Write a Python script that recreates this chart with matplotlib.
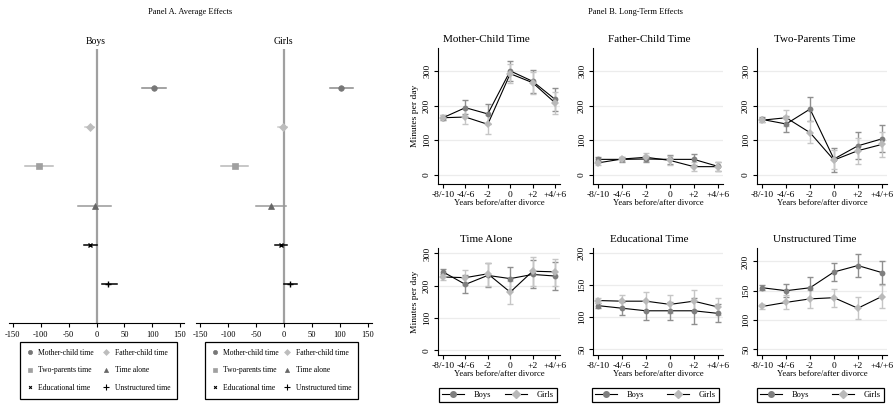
import numpy as np
import matplotlib.pyplot as plt
from matplotlib.lines import Line2D

plt.rcParams['font.family'] = ['Liberation Serif', 'DejaVu Serif']
plt.rcParams['axes.unicode_minus'] = False

W, H = 893, 408

# ---- Panel A data (average effects) ----
activities = ['Mother-child time', 'Father-child time', 'Two-parents time',
              'Time alone', 'Educational time', 'Unstructured time']
boys_est = [103, -12, -103, -3, -12, 21]
boys_lo = [82, -21, -128, -33, -22, 9]
boys_hi = [124, -4, -78, 26, 1, 36]
girls_est = [103, -2, -88, -24, -6, 11]
girls_lo = [82, -11, -113, -50, -16, 0]
girls_hi = [123, 5, -65, 3, 5, 23]

# ---- Panel B data (long-term effects) ----
periods = ['-8/-10', '-4/-6', '-2', '0', '+2', '+4/+6']

mother_boys = [165, 194, 176, 300, 270, 218]
mother_boys_lo = [158, 175, 146, 272, 237, 185]
mother_boys_hi = [172, 215, 206, 328, 302, 252]
mother_girls = [165, 167, 146, 292, 266, 208]
mother_girls_lo = [158, 146, 118, 266, 232, 177]
mother_girls_hi = [172, 190, 173, 320, 298, 240]

father_boys = [45, 45, 46, 45, 45, 25]
father_boys_lo = [39, 38, 36, 33, 30, 12]
father_boys_hi = [51, 52, 56, 57, 60, 38]
father_girls = [35, 46, 51, 42, 24, 24]
father_girls_lo = [29, 39, 40, 30, 12, 12]
father_girls_hi = [41, 53, 62, 54, 36, 36]

two_boys = [160, 147, 190, 46, 84, 104]
two_boys_lo = [154, 123, 156, 10, 46, 66]
two_boys_hi = [166, 171, 224, 78, 123, 143]
two_girls = [158, 165, 122, 43, 70, 88]
two_girls_lo = [152, 142, 92, 16, 33, 52]
two_girls_hi = [164, 188, 155, 72, 108, 125]

alone_boys = [243, 204, 232, 222, 235, 230]
alone_boys_lo = [235, 176, 195, 186, 192, 187]
alone_boys_hi = [251, 232, 270, 258, 280, 275]
alone_girls = [227, 225, 237, 180, 245, 243]
alone_girls_lo = [219, 202, 198, 144, 200, 200]
alone_girls_hi = [235, 248, 272, 216, 288, 284]

edu_boys = [118, 114, 110, 110, 110, 106]
edu_boys_lo = [114, 104, 95, 96, 90, 92]
edu_boys_hi = [122, 124, 125, 124, 130, 120]
edu_girls = [126, 125, 125, 120, 125, 116]
edu_girls_lo = [122, 115, 110, 106, 110, 104]
edu_girls_hi = [130, 135, 140, 134, 142, 130]

unstr_boys = [155, 150, 155, 182, 193, 181]
unstr_boys_lo = [151, 139, 138, 166, 174, 161]
unstr_boys_hi = [159, 161, 173, 198, 212, 200]
unstr_girls = [123, 130, 136, 138, 120, 140]
unstr_girls_lo = [119, 118, 120, 122, 101, 121]
unstr_girls_hi = [127, 142, 152, 153, 140, 160]

fig = plt.figure(figsize=(W / 100, H / 100), dpi=100)


def px_axes(left, top, right, bottom):
    return fig.add_axes([left / W, 1 - bottom / H, (right - left) / W, (bottom - top) / H])


def fig_bbox(left, top, right, bottom):
    return (left / W, 1 - bottom / H, (right - left) / W, (bottom - top) / H)


# ---------------- Panel A ----------------
a_markers = ['o', 'D', 's', '^', 'x', '+']
a_mcolors = ['#777777', '#bdbdbd', '#a0a0a0', '#666666', 'black', 'black']
a_lcolors = ['#8a8a8a', '#cccccc', '#b8b8b8', '#999999', 'black', 'black']
a_msizes = [4, 4, 4, 4, 3, 5]

fig.text(190 / W, 1 - 12 / H, 'Panel A. Average Effects', ha='center', va='center', fontsize=6)

for rect, title, est, lo, hi, leg in [((9, 49, 184, 323), 'Boys', boys_est, boys_lo, boys_hi, (20, 342, 177, 405)),
                                       ((196.5, 49, 371.5, 323), 'Girls', girls_est, girls_lo, girls_hi, (205, 342, 358, 405))]:
    ax = px_axes(*rect)
    ax.set_xlim(-157, 157)
    ax.set_ylim(0, 7)
    ax.axvline(0, color='#a0a0a0', lw=1.6, zorder=1)
    rows = np.arange(len(activities), 0, -1)
    handles = []
    for i in range(len(activities)):
        ax.plot([lo[i], hi[i]], [rows[i], rows[i]], color=a_lcolors[i], lw=1.1, zorder=2)
        ax.plot(est[i], rows[i], marker=a_markers[i], color=a_mcolors[i], ms=a_msizes[i],
                mew=1 if a_markers[i] in 'x+' else 0.5, ls='none', zorder=3)
        handles.append(Line2D([], [], marker=a_markers[i], color=a_mcolors[i], ms=a_msizes[i] - 1,
                              ls='none', mew=0.8 if a_markers[i] in 'x+' else 0.5))
    for s in ['top', 'right', 'left']:
        ax.spines[s].set_visible(False)
    ax.spines['bottom'].set_linewidth(0.8)
    ax.set_yticks([])
    ax.set_xticks(np.arange(-150, 151, 50))
    ax.tick_params(axis='x', length=3, width=0.8, labelsize=6, pad=3)
    fig.text(((rect[0] + rect[2]) / 2 - 0.5) / W, 1 - 42 / H, title, ha='center', va='center', fontsize=7)
    # legend filled row-wise like the original
    order = [0, 2, 4, 1, 3, 5]
    lg = ax.legend([handles[k] for k in order], [activities[k] for k in order], ncol=2,
                   loc='upper left', bbox_to_anchor=fig_bbox(*leg), bbox_transform=fig.transFigure,
                   mode='expand', borderaxespad=0, fontsize=5.5, handlelength=0.8, handletextpad=0.7,
                   labelspacing=1.25, borderpad=0.9, columnspacing=0.6, fancybox=False, framealpha=1)
    lg.get_frame().set_edgecolor('black')
    lg.get_frame().set_linewidth(0.9)

# ---------------- Panel B ----------------
fig.text(635 / W, 1 - 12 / H, 'Panel B. Long-Term Effects', ha='center', va='center', fontsize=6)

boys_mc = '#7f7f7f'
girls_mc = '#b9b9b9'
boys_ec = '#8f8f8f'
girls_ec = '#c6c6c6'

panels = [
    ('Mother-Child Time', (438, 48, 560, 184), 486, 39, (-26, 366), [0, 100, 200, 300],
     (mother_boys, mother_boys_lo, mother_boys_hi), (mother_girls, mother_girls_lo, mother_girls_hi), True, None),
    ('Father-Child Time', (593, 48, 723, 184), 649, 39, (-26, 366), [0, 100, 200, 300],
     (father_boys, father_boys_lo, father_boys_hi), (father_girls, father_girls_lo, father_girls_hi), False, None),
    ('Two-Parents Time', (757, 48, 887, 184), 815, 39, (-26, 366), [0, 100, 200, 300],
     (two_boys, two_boys_lo, two_boys_hi), (two_girls, two_girls_lo, two_girls_hi), False, None),
    ('Time Alone', (438, 248, 560, 355), 486, 239, (-15, 317), [0, 100, 200, 300],
     (alone_boys, alone_boys_lo, alone_boys_hi), (alone_girls, alone_girls_lo, alone_girls_hi), True, (439, 388, 557, 407)),
    ('Educational Time', (593, 248, 723, 355), 649, 239, (41, 208), [50, 100, 150, 200],
     (edu_boys, edu_boys_lo, edu_boys_hi), (edu_girls, edu_girls_lo, edu_girls_hi), False, (592, 388, 719, 407)),
    ('Unstructured Time', (757, 248, 887, 355), 815, 239, (40, 223), [50, 100, 150, 200],
     (unstr_boys, unstr_boys_lo, unstr_boys_hi), (unstr_girls, unstr_girls_lo, unstr_girls_hi), False, (757, 388, 884, 407)),
]

x = np.arange(len(periods))
for title, rect, tx, ty, ylim, yt, boys, girls, ylab, leg in panels:
    ax = px_axes(*rect)
    ax.set_xlim(-0.22, 5.22)
    ax.set_ylim(*ylim)
    for v in yt:
        ax.axhline(v, color='#ececec', lw=0.9, zorder=0)
    for (est, lo, hi), mc, ec, mk, ms in [(boys, boys_mc, boys_ec, 'o', 4.2), (girls, girls_mc, girls_ec, 'D', 4.2)]:
        est = np.array(est)
        err = [est - np.array(lo), np.array(hi) - est]
        ax.errorbar(x, est, yerr=err, fmt='none', ecolor=ec, elinewidth=1, capsize=2.2, capthick=1, zorder=2)
        ax.plot(x, est, color='black', lw=0.8, zorder=3)
        ax.plot(x, est, marker=mk, ls='none', color=mc, ms=ms, mew=0, zorder=4)
    for s in ['top', 'right']:
        ax.spines[s].set_visible(False)
    for s in ['left', 'bottom']:
        ax.spines[s].set_linewidth(0.8)
    ax.set_xticks(x)
    ax.set_xticklabels(periods)
    ax.set_yticks(yt)
    ax.set_yticklabels([str(v) for v in yt], rotation=90, va='center')
    ax.tick_params(length=3, width=0.8, labelsize=6.8, pad=2)
    ax.set_xlabel('Years before/after divorce', fontsize=6.2, labelpad=0)
    if ylab:
        ax.set_ylabel('Minutes per day', fontsize=6.8, labelpad=3)
    fig.text(tx / W, 1 - ty / H, title, ha='center', va='center', fontsize=8)
    if leg is not None:
        hb = Line2D([], [], color='black', lw=0.8, marker='o', mfc=boys_mc, mec=boys_mc, ms=4)
        hg = Line2D([], [], color='black', lw=0.8, marker='D', mfc=girls_mc, mec=girls_mc, ms=4)
        lg = ax.legend([hb, hg], ['Boys', 'Girls'], ncol=2, loc='upper left',
                       bbox_to_anchor=fig_bbox(*leg), bbox_transform=fig.transFigure, mode='expand',
                       borderaxespad=0, fontsize=6, handlelength=2.6, handletextpad=1.2,
                       borderpad=0.35, columnspacing=1.5, fancybox=False, framealpha=1)
        lg.get_frame().set_edgecolor('black')
        lg.get_frame().set_linewidth(0.9)

fig.savefig('out.png', dpi=100)
